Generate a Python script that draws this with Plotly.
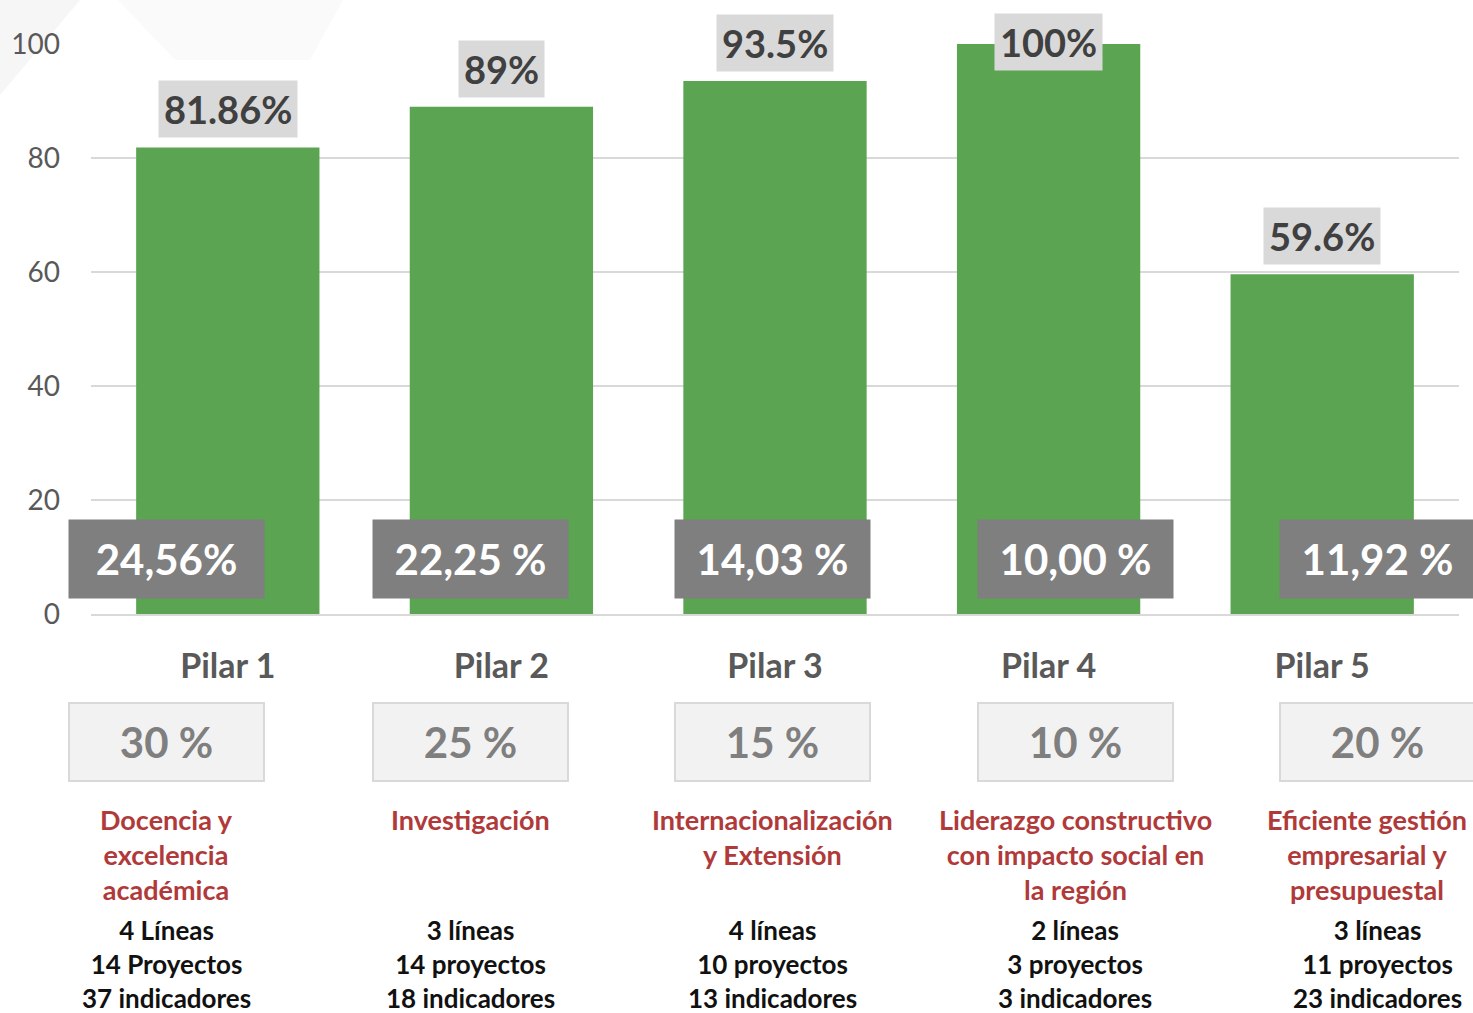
import plotly.graph_objects as go

# ---------------- data ----------------
categories = ["Pilar 1", "Pilar 2", "Pilar 3", "Pilar 4", "Pilar 5"]
avance = [81.86, 89, 93.5, 100, 59.6]
contribucion = ["24,56%", "22,25 %", "14,03 %", "10,00 %", "11,92 %"]
peso = ["30 %", "25 %", "15 %", "10 %", "20 %"]
nombres = [
    "Docencia y<br>excelencia<br>académica",
    "Investigación",
    "Internacionalización<br>y Extensión",
    "Liderazgo constructivo<br>con impacto social en<br>la región",
    "Eficiente gestión<br>empresarial y<br>presupuestal",
]
detalles = [
    "4 Líneas<br>14 Proyectos<br>37 indicadores",
    "3 líneas<br>14 proyectos<br>18 indicadores",
    "4 líneas<br>10 proyectos<br>13 indicadores",
    "2 líneas<br>3 proyectos<br>3 indicadores",
    "3 líneas<br>11 proyectos<br>23 indicadores",
]
y_ticks = [0, 20, 40, 60, 80, 100]

# ---------------- layout constants ----------------
W, H = 1473, 1013
ML, MR, MT, MB = 91, 14, 44, 399
PW, PH = W - ML - MR, H - MT - MB
FONT = "Lato"
GREEN = "#5ba552"
RED = "#b03a3a"


def px_x(px):
    return (px - ML) / PW


def px_y(py):
    return (H - MB - py) / PH


col_centers = [166, 470, 772, 1075, 1377]  # pixel centres of the info columns

fig = go.Figure()
fig.add_trace(go.Bar(
    x=categories, y=avance, marker=dict(color=GREEN, line=dict(width=0)),
    width=0.67, hoverinfo="skip", showlegend=False,
))

ann = []
# value labels above bars
for c, v in zip(categories, avance):
    top_px = MT + (100 - v) / 100 * PH - 9 - 59
    if top_px < 10:
        a = dict(yanchor="middle", yshift=2)
    else:
        a = dict(yanchor="bottom", yshift=9)
    ann.append(dict(x=c, y=v, xref="x", yref="y", text=f"{v:g}%", showarrow=False,
                    font=dict(family=FONT, size=38, color="#404040", weight="bold"),
                    bgcolor="#d9d9d9", borderpad=5, **a))

n = len(categories)
for i in range(n):
    cx = px_x(col_centers[i])
    # dark contribution box
    ann.append(dict(x=cx, y=px_y(559), xref="paper", yref="paper", text=contribucion[i],
                    showarrow=False, xanchor="center", yanchor="middle",
                    width=195, height=78, bgcolor="#7f7f7f", borderpad=0,
                    font=dict(family=FONT, size=42, color="white", weight="bold")))
    # weight box
    ann.append(dict(x=cx, y=px_y(742), xref="paper", yref="paper", text=peso[i],
                    showarrow=False, xanchor="center", yanchor="middle",
                    width=193, height=76, bgcolor="#f2f2f2", bordercolor="#d9d9d9",
                    borderwidth=2, borderpad=0,
                    font=dict(family=FONT, size=42, color="#7f7f7f", weight="bold")))
    # red name (last column nudged so it stays inside the page)
    ann.append(dict(x=cx, y=px_y(801), xref="paper", yref="paper", text=nombres[i],
                    showarrow=False, xanchor="center", yanchor="top", align="center",
                    xshift=-10 if i == n - 1 else 0,
                    font=dict(family=FONT, size=27, color=RED, weight="bold")))
    # black details
    ann.append(dict(x=cx, y=px_y(912), xref="paper", yref="paper", text=detalles[i],
                    showarrow=False, xanchor="center", yanchor="top", align="center",
                    font=dict(family=FONT, size=26, color="#111111", weight="bold")))

# faint decorative background shapes (top-left)
shapes = [
    dict(type="path", xref="paper", yref="paper", layer="below", line=dict(width=0),
         fillcolor="#f6f6f6",
         path=f"M {px_x(0)},{px_y(0)} L {px_x(80)},{px_y(0)} L {px_x(0)},{px_y(95)} Z"),
    dict(type="path", xref="paper", yref="paper", layer="below", line=dict(width=0),
         fillcolor="#fafafa",
         path=f"M {px_x(118)},{px_y(0)} L {px_x(343)},{px_y(0)} L {px_x(310)},{px_y(60)} "
              f"L {px_x(175)},{px_y(60)} Z"),
]

fig.update_layout(
    width=W, height=H, margin=dict(l=ML, r=MR, t=MT, b=MB),
    paper_bgcolor="white", plot_bgcolor="rgba(0,0,0,0)",
    font=dict(family=FONT), annotations=ann, shapes=shapes, bargap=0.33,
    xaxis=dict(range=[-0.5, 4.5], showgrid=False, zeroline=False,
               showline=True, linecolor="#d9d9d9", linewidth=2,
               ticks="outside", ticklen=21, tickcolor="rgba(0,0,0,0)",
               tickfont=dict(family=FONT, size=34, color="#595959", weight="bold")),
    yaxis=dict(range=[0, 100], tickvals=y_ticks, showgrid=True, gridcolor="#d9d9d9",
               gridwidth=2, zeroline=False, showline=False,
               ticklabelstandoff=30,
               tickfont=dict(family=FONT, size=28, color="#595959")),
)

fig.write_html("out.html", config={"displayModeBar": False},
               post_script="document.body.style.margin='0';")
